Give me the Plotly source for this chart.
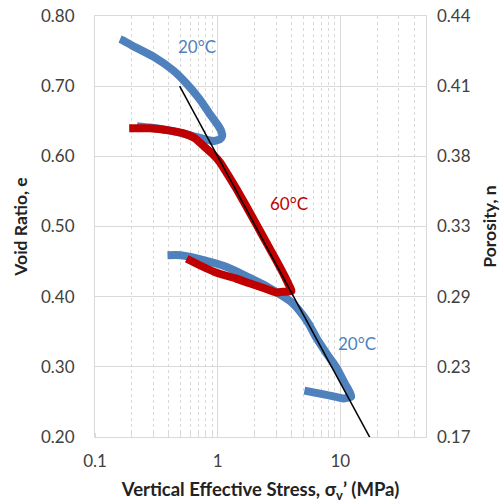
import plotly.graph_objects as go

# 20 C test: first loading + unload, then reload/virgin/unload
blue_stress = [0.16, 0.17, 0.2, 0.3, 0.43, 0.55, 0.71, 0.85, 1.0, 1.07, 1.09, 1.04, 0.9, 0.6, 0.4, 0.28, 0.22,
               None,
               0.39, 0.5, 0.81, 1.2, 1.82, 2.5, 3.37, 4.0, 4.64, 5.5, 6.4, 7.8, 9.3, 11.0, 12.3, 10.7, 7.7, 5.1]
blue_void = [0.767, 0.765, 0.758, 0.742, 0.723, 0.705, 0.682, 0.662, 0.645, 0.636, 0.629, 0.624, 0.622, 0.63, 0.637, 0.641, 0.643,
             None,
             0.459, 0.459, 0.451, 0.442, 0.427, 0.415, 0.401, 0.392, 0.38, 0.362, 0.341, 0.318, 0.299, 0.275, 0.258, 0.255, 0.26, 0.266]

# 60 C test
red_stress = [0.19, 0.28, 0.4, 0.52, 0.65, 0.755, 0.9, 1.04, 1.2, 1.43, 1.7, 2.07, 2.5, 3.0, 3.5, 3.85, 4.0,
              3.4, 3.0, 2.4, 1.82, 1.4, 0.98, 0.75, 0.56]
red_void = [0.640, 0.640, 0.637, 0.633, 0.626, 0.616, 0.604, 0.592, 0.575, 0.553, 0.530, 0.503, 0.477, 0.452, 0.430, 0.415, 0.408,
            0.407, 0.406, 0.412, 0.419, 0.426, 0.434, 0.443, 0.454]

# compression index line
fit_stress = [0.49, 20]
fit_void = [0.70, 0.18]

e_ticks = [0.2, 0.3, 0.4, 0.5, 0.6, 0.7, 0.8]
e_labels = ["0.20", "0.30", "0.40", "0.50", "0.60", "0.70", "0.80"]
n_labels = ["0.17", "0.23", "0.29", "0.33", "0.38", "0.41", "0.44"]
x_ticks = [0.1, 1, 10]
x_labels = ["0.1", "1", "10"]

BLUE = "#4F81BD"
RED = "#C00000"
GRID = "#d9d9d9"
FONT = "Lato"

fig = go.Figure()
fig.add_trace(go.Scatter(x=blue_stress, y=blue_void, mode="lines",
                         line=dict(color=BLUE, width=8, shape="spline", smoothing=0.6),
                         showlegend=False))
fig.add_trace(go.Scatter(x=red_stress, y=red_void, mode="lines",
                         line=dict(color=RED, width=8, shape="spline", smoothing=0.6),
                         showlegend=False))
fig.add_trace(go.Scatter(x=fit_stress, y=fit_void, mode="lines",
                         line=dict(color="black", width=1.5), showlegend=False))
fig.add_trace(go.Scatter(x=[0.1], y=[0.2], yaxis="y2", mode="markers",
                         marker=dict(opacity=0), showlegend=False, hoverinfo="skip"))

# annotation x is given in log10 units on a log axis
fig.add_annotation(x=-0.17, y=0.756, text="20°C", showarrow=False,
                   font=dict(color=BLUE, size=17, family=FONT))
fig.add_annotation(x=0.585, y=0.533, text="60°C", showarrow=False,
                   font=dict(color=RED, size=17, family=FONT))
fig.add_annotation(x=1.14, y=0.333, text="20°C", showarrow=False,
                   font=dict(color=BLUE, size=17, family=FONT))

fig.update_layout(
    width=502, height=503,
    margin=dict(l=95, r=76, t=16, b=66, autoexpand=False),
    plot_bgcolor="white", paper_bgcolor="white",
    font=dict(family=FONT, size=17, color="#404040"),
    xaxis=dict(type="log", range=[-1, 1.699], tickvals=x_ticks, ticktext=x_labels,
               showgrid=True, gridcolor=GRID, gridwidth=1,
               showline=True, linecolor=GRID, mirror=True, automargin=False,
               minor=dict(dtick="D1", showgrid=True, gridcolor=GRID, griddash="dot",
                          ticks="inside", ticklen=4, tickcolor=GRID),
               ticklabelstandoff=9,
               title=dict(text="<b>Vertical Effective Stress, σ<sub>v</sub>’ (MPa)</b>",
                          font=dict(size=18.5, color="#222"), standoff=12),
               zeroline=False),
    yaxis=dict(range=[0.2, 0.8], tickvals=e_ticks, ticktext=e_labels,
               showgrid=True, gridcolor=GRID, showline=True, linecolor=GRID, mirror=True,
               automargin=False, ticklabelstandoff=16,
               title=dict(text="<b>Void Ratio, e</b>", font=dict(size=17.5, color="#222"), standoff=8),
               zeroline=False),
    yaxis2=dict(range=[0.2, 0.8], overlaying="y", side="right", automargin=False,
                tickvals=e_ticks, ticktext=n_labels, showgrid=False, ticklabelstandoff=10,
                title=dict(text="<b>Porosity, n</b>", font=dict(size=17.5, color="#222"), standoff=14),
                zeroline=False),
)

fig.write_html("out.html", config={"displayModeBar": False},
               post_script="document.body.style.margin='0';")
